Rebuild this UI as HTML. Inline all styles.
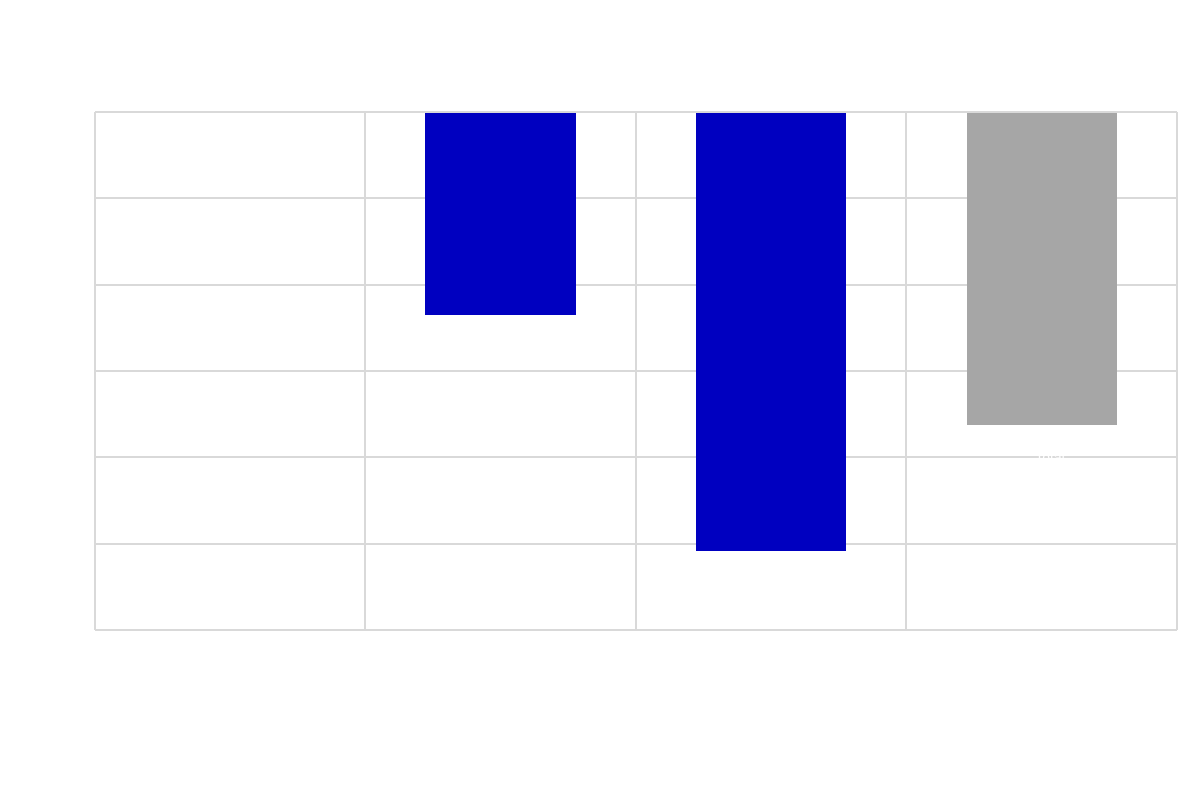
<!DOCTYPE html>
<html><head><meta charset="utf-8"><style>body{margin:0;background:#fff}</style></head>
<body>
<svg width="1200" height="780" xmlns="http://www.w3.org/2000/svg">
<rect width="1200" height="780" fill="#fff"/>
<g stroke="#d9d9d9" stroke-width="2">
<line x1="95" y1="112" x2="1177" y2="112"/>
<line x1="95" y1="198" x2="1177" y2="198"/>
<line x1="95" y1="285" x2="1177" y2="285"/>
<line x1="95" y1="371" x2="1177" y2="371"/>
<line x1="95" y1="457" x2="1177" y2="457"/>
<line x1="95" y1="544" x2="1177" y2="544"/>
<line x1="95" y1="630" x2="1177" y2="630"/>
<line x1="95" y1="112" x2="95" y2="630"/>
<line x1="365" y1="112" x2="365" y2="630"/>
<line x1="636" y1="112" x2="636" y2="630"/>
<line x1="906" y1="112" x2="906" y2="630"/>
<line x1="1177" y1="112" x2="1177" y2="630"/>
</g>
<rect x="425" y="113" width="151" height="202" fill="#0000c0"/>
<rect x="696" y="113" width="150" height="438" fill="#0000c0"/>
<rect x="967" y="113" width="150" height="312" fill="#a6a6a6"/>
<text x="1050" y="462" fill="#fff" font-family="Liberation Sans, sans-serif" font-size="14" text-anchor="middle">Total</text>
</svg>
</body></html>
